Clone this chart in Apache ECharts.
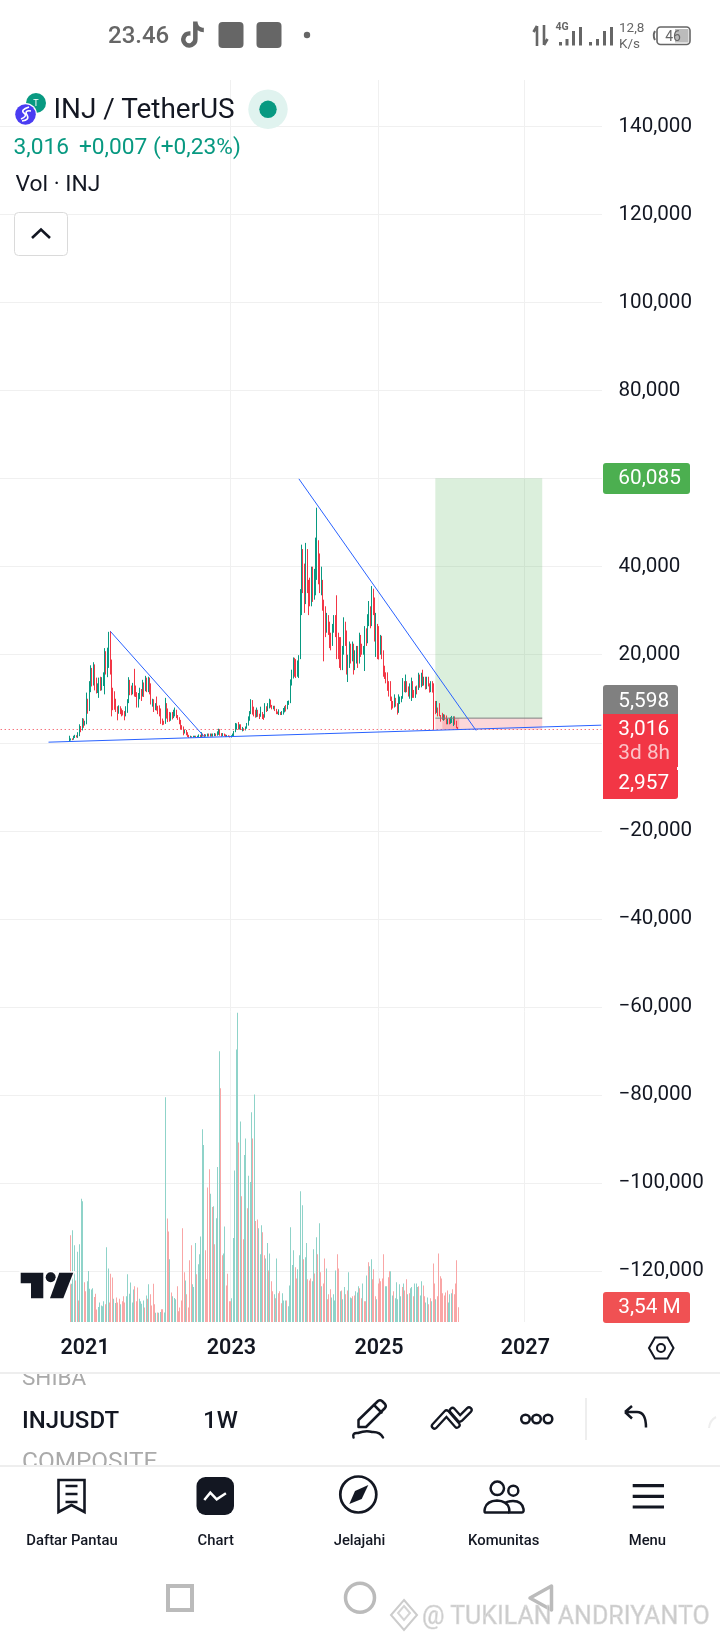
<!DOCTYPE html>
<html>
<head>
<meta charset="utf-8">
<script src="https://cdn.jsdelivr.net/npm/echarts@6/dist/echarts.min.js"></script>
<style>
html,body{margin:0;padding:0;background:#fff;width:720px;height:1640px;overflow:hidden}
#chart{position:absolute;left:0;top:0;width:720px;height:1640px}
#chrome{position:absolute;left:0;top:0;pointer-events:none}
#chrome text{font-family:Roboto,sans-serif;dominant-baseline:central}
</style>
</head>
<body>
<div id="chart"></div>
<svg id="chrome" width="720" height="1640" viewBox="0 0 720 1640">
  <defs>
    <clipPath id="c1"><rect x="0" y="1374" width="300" height="20"/></clipPath>
    <clipPath id="c2"><rect x="0" y="1440" width="300" height="25"/></clipPath>
  </defs>
  <!-- status bar -->
  <text x="108" y="35" font-size="24" font-weight="500" fill="#666">23.46</text>
  <path transform="translate(177,19) scale(1.3)" fill="#666" d="M19.59 6.69a4.83 4.83 0 0 1-3.77-4.25V2h-3.45v13.67a2.89 2.89 0 0 1-5.2 1.74 2.89 2.89 0 0 1 2.31-4.64 2.93 2.93 0 0 1 .88.13V9.4a6.84 6.84 0 0 0-1-.05A6.33 6.33 0 0 0 5 20.1a6.34 6.34 0 0 0 10.86-4.43v-7a8.16 8.16 0 0 0 4.77 1.52v-3.4a4.85 4.85 0 0 1-1-.1z"/>
  <rect x="218.5" y="22" width="25" height="26" rx="4" fill="#666"/>
  <rect x="256.5" y="22" width="25" height="26" rx="4" fill="#666"/>
  <circle cx="307" cy="35" r="3.2" fill="#666"/>
  <path d="M537 46V26M537 26l-3.5 6M544 25V45M544 45l3.5-6" stroke="#666" stroke-width="2.6" fill="none"/>
  <text x="555.5" y="26" font-size="10.5" font-weight="700" fill="#666">4G</text>
  <g fill="#666">
    <rect x="559" y="42" width="3" height="3.5"/><rect x="565.5" y="39" width="3" height="6.5"/><rect x="572" y="31" width="3" height="14.5"/><rect x="579" y="27" width="3" height="18.5"/>
    <rect x="589" y="42" width="3" height="3.5"/><rect x="596" y="39" width="3" height="6.5"/><rect x="603" y="31" width="3" height="14.5"/><rect x="610" y="27" width="3" height="18.5"/>
  </g>
  <text x="619" y="27" font-size="13.5" fill="#666">12,8</text>
  <text x="619" y="43" font-size="13.5" fill="#666">K/s</text>
  <rect x="657" y="27" width="33" height="17.5" rx="3.5" fill="none" stroke="#666" stroke-width="1.6"/>
  <rect x="675" y="29" width="13.5" height="13.5" fill="#bbb"/>
  <path d="M655 31q-2.5 4.5 0 9" stroke="#666" stroke-width="2" fill="none"/>
  <text x="673" y="36" font-size="14" fill="#666" text-anchor="middle">46</text>
  <!-- legend -->
  <circle cx="36" cy="103" r="10" fill="#089981"/>
  <text x="36" y="103" font-size="9" fill="#fff" text-anchor="middle">T</text>
  <circle cx="25.5" cy="114.5" r="11.5" fill="#fff"/>
  <circle cx="25.5" cy="114.5" r="10.3" fill="#4A3CF2"/>
  <path d="M21 119q7-3 3-6t5-6M22 121q8-1 5-6t4-4" stroke="#fff" stroke-width="1.6" fill="none"/>
  <text x="53.5" y="108.5" font-size="27.9" fill="#131722">INJ / TetherUS</text>
  <circle cx="268" cy="109.3" r="19.7" fill="#E0F3EF"/>
  <circle cx="268" cy="109.3" r="8.7" fill="#089981"/>
  <text x="13.5" y="146.5" font-size="22.7" fill="#089981">3,016</text>
  <text x="79" y="146.5" font-size="22.7" fill="#089981">+0,007 (+0,23%)</text>
  <text x="15.5" y="183" font-size="22.8" fill="#131722">Vol · INJ</text>
  <rect x="14.5" y="212.5" width="53" height="43" rx="4" fill="#fff" stroke="#DADADA" stroke-width="1"/>
  <path d="M32 238L41 229.5L50 238" stroke="#131722" stroke-width="2.6" fill="none"/>
  <!-- TV logo -->
  <g fill="#131722" stroke="#fff" stroke-width="3" paint-order="stroke">
    <path d="M20.7 1272.7H43.3V1298.3H31V1283.3H20.7Z"/>
    <circle cx="50.7" cy="1277.3" r="5"/>
    <path d="M59.3 1272.7H73.3L63.3 1298.3H50Z"/>
  </g>
  <!-- axis gear -->
  <path d="M649 1348l6-10.500h12.500l6 10.500-6 10.500h-12.500z" fill="none" stroke="#131722" stroke-width="2"/>
  <circle cx="661" cy="1348" r="4" fill="none" stroke="#131722" stroke-width="2"/>
  <!-- symbol toolbar -->
  <rect x="0" y="1372" width="720" height="2" fill="#EEE"/>
  <text x="22" y="1377" font-size="22.5" fill="#AAA" clip-path="url(#c1)">SHIBA</text>
  <text x="22" y="1419.5" font-size="24" font-weight="500" fill="#131722">INJUSDT</text>
  <text x="203" y="1419.5" font-size="24" font-weight="500" fill="#131722">1W</text>
  <text x="22" y="1460" font-size="24.4" fill="#AAA" clip-path="url(#c2)">COMPOSITE</text>
  <g fill="none" stroke="#131722" stroke-width="2.5" stroke-linejoin="round" stroke-linecap="round">
    <path d="M358.5 1427V1420L378 1401Q380 1399.500 382 1401L385 1404Q386.500 1406 385 1408L366 1427Z"/>
    <path d="M374 1405L381.5 1412.5"/>
    <path d="M353.5 1437.5Q352 1432.500 358 1433Q366 1430 372 1432Q380 1431.500 383 1437.5"/>
    <circle cx="525.5" cy="1419" r="4.3"/><circle cx="536.5" cy="1419" r="4.3"/><circle cx="548" cy="1419" r="4.3"/>
    <path d="M632 1418.5L625 1412M625 1412L632 1406M625.5 1412H637Q646 1412 646 1427.5" stroke-linecap="butt"/>
  </g>
  <g fill="none" stroke-linecap="round" stroke-linejoin="round">
    <path d="M434.5 1426L446.5 1413L457 1425M452.5 1410.5L460 1419L469 1410" stroke="#131722" stroke-width="7.5"/>
    <path d="M434.5 1426L446.5 1413L457 1425M452.5 1410.5L460 1419L469 1410" stroke="#fff" stroke-width="3"/>
  </g>
  <rect x="585" y="1398" width="2" height="42" fill="#EEE"/>
  <path d="M709 1428Q710 1420 716 1417" stroke="#EEE" stroke-width="2" fill="none"/>
  <rect x="0" y="1465" width="720" height="2" fill="#EEE"/>
  <!-- nav -->
  <path d="M58.5 1480H84.5V1512L71.5 1505L58.5 1512Z" fill="none" stroke="#131722" stroke-width="2.6"/>
  <path d="M65.5 1486H77.5M65.5 1494H77.5M65.5 1502H77.5" stroke="#131722" stroke-width="2.6"/>
  <rect x="196.5" y="1477" width="37.5" height="38" rx="9" fill="#131722"/>
  <path d="M204.3 1500L210.3 1492.7L216.7 1499.3L225.9 1493.3" fill="none" stroke="#fff" stroke-width="2.5"/>
  <circle cx="358.3" cy="1494.5" r="18" fill="none" stroke="#131722" stroke-width="2.7"/>
  <path d="M368.3 1485L361.7 1499L349.3 1504L355 1491Z" fill="#131722"/>
  <g fill="none" stroke="#131722" stroke-width="2.5">
    <circle cx="497.3" cy="1488.3" r="6.7"/>
    <circle cx="513.3" cy="1490.7" r="5"/>
    <path d="M485 1512.5H508Q510 1512.5 509 1508Q507 1501 497 1500.5Q487 1501 485 1508Q484 1512 485 1512.5Z"/>
    <path d="M508 1512.5H522Q524 1512.5 523.5 1509Q522 1501 513 1501Q508 1501 505 1503"/>
  </g>
  <path d="M632.7 1485.7H664M632.7 1496.3H664M632.7 1507H664" stroke="#131722" stroke-width="3.2"/>
  <g font-size="14.8" font-weight="500" fill="#131722" text-anchor="middle">
    <text x="72" y="1540">Daftar Pantau</text>
    <text x="215.8" y="1540">Chart</text>
    <text x="359.5" y="1540">Jelajahi</text>
    <text x="503.7" y="1540">Komunitas</text>
    <text x="647.4" y="1540">Menu</text>
  </g>
  <!-- android nav -->
  <rect x="168" y="1586" width="24" height="24" fill="none" stroke="#BBB" stroke-width="4"/>
  <circle cx="360" cy="1597.7" r="14.5" fill="none" stroke="#BBB" stroke-width="3.5"/>
  <path d="M551.5 1586V1610L530 1598Z" fill="none" stroke="#BBB" stroke-width="3.5" stroke-linejoin="round"/>
  <!-- watermark -->
  <path d="M404 1600L417 1615L404 1630L391 1615Z" fill="none" stroke="#CCC" stroke-width="2"/>
  <path d="M404 1606L410 1613L404 1620L398 1613Z" fill="none" stroke="#D5D5D5" stroke-width="2"/>
  <text x="422" y="1615" font-size="25" fill="#BDBDBD" fill-opacity="0.8" stroke="#DDD" stroke-width="0.6">@ TUKILAN ANDRIYANTO</text>
</svg>
<script>
// weekly category axis
const firstWeek = Date.UTC(2019, 10, 11);
const weekCount = 428;
const categories = [];
for (let k = 0; k < weekCount; k++) categories.push(new Date(firstWeek + k * 7 * 864e5).toISOString().slice(0, 10));
const yearTicks = ['2021-01-04', '2023-01-02', '2025-01-06', '2027-01-04'];
const priceTicks = [140, 120, 100, 80, 60, 40, 20, 0, -20, -40, -60, -80, -100, -120];
const leadingEmptyWeeks = 49;
const firstOpen = 0.5;

const closes = [
.6,.9,.7,1.2,1.5,1.4,2.0,3.4,3.0,5.5,
4.4,4.6,9.5,7.2,12.0,16.6,13.5,17.5,14.6,11.8,
12.1,14.5,12.4,14.6,15.5,20.5,16.5,19.0,22.0,16.0,
12.5,11.5,8.5,7.6,7.0,8.0,7.7,7.2,7.0,6.4,
7.9,9.4,14.0,12.4,11.5,13.0,12.0,11.0,9.5,10.8,
11.8,10.9,13.0,11.9,14.0,13.2,14.2,12.8,9.0,9.4,
7.8,8.3,8.2,7.3,6.7,5.4,4.4,4.3,9.0,7.8,
6.5,5.2,6.5,6.0,6.7,7.5,6.2,5.6,4.8,3.9,
3.6,2.4,2.5,2.2,1.6,1.3,1.35,1.3,1.4,1.5,
1.35,1.5,1.7,1.5,2.0,1.6,1.5,1.7,2.0,1.6,
1.9,1.6,1.8,2.0,1.7,2.4,3.0,2.0,1.6,2.0,
1.8,1.5,1.6,1.4,1.3,1.5,1.9,2.4,3.6,4.0,
3.5,3.7,3.0,3.0,2.9,3.4,4.0,5.3,6.5,9.7,
8.0,7.3,6.4,7.4,6.3,5.9,7.0,6.0,5.8,8.0,
7.6,8.9,9.8,8.5,8.0,8.1,7.6,6.9,6.6,7.0,
6.5,6.7,7.5,8.0,7.8,8.9,9.5,14.4,15.5,19.0,
17.0,15.3,17.0,19.3,30.0,43.5,35.0,32.0,44.0,36.0,
34,32,39,33,37,38,46,39,35,36.5,
32,30,25,29,26.5,24,22,26,28,27,
23,22,19,17,21,27,24.5,16,19.5,22,
20,22.5,17,19,21,18,24,22,20.5,21,
25,23,28.5,31,28,34,30,26,27,24,
22,24,20,17,15.5,14.5,13,11.5,9.8,8.5,
8.3,10,8.6,6.8,9.5,10,10,13.5,12,14,
12.5,11,12.5,14,11,10.8,12.5,12,15.5,13.5,
15.8,13.5,14.5,14,15,13.5,13,13.5,12,8,
7.5,7.8,7.2,6,5.5,5.2,5.7,5.3,4.3,5,
4.4,4.7,5.6,5.9,4.5,3.5,3.016];
const highs = [
1.6,1.0,1.0,1.6,1.8,1.7,2.4,4.2,3.8,5.6,
5.4,5.0,11.4,10,14.0,17.6,17.0,18.3,17.8,14.8,
13.5,14.8,15.0,14.9,16.0,21.5,20.8,21.6,25.2,25.4,
18.9,12.0,11.7,10.0,8.3,8.5,8.3,7.8,7.4,7.2,
8.3,9.9,14.9,14.3,13.0,13.6,16.8,13.0,11.5,11.3,
12.5,12.2,14.3,13.7,15.2,14.8,15.0,14.8,13.5,10,
9.9,9.0,10.5,8.4,8.5,7.8,5.5,5.0,10.2,8.5,
7.6,7.0,6.9,7.0,7.5,8.0,7.5,6.3,5.8,5.2,
4.0,3.7,3.0,2.9,2.4,1.8,1.6,1.5,1.6,1.6,
1.6,1.6,1.9,1.8,2.4,2.1,2.0,1.9,2.1,2.1,
2.1,2.1,2.1,2.2,2.1,2.6,3.2,3.1,2.2,2.2,
2.1,1.9,1.8,1.7,1.6,1.7,2.1,2.7,4.5,4.4,
4.7,4.2,4.2,3.6,3.3,3.7,4.5,6.0,7.2,9.9,
9.5,8.2,7.5,8.0,7.5,6.6,8.2,7.0,6.5,9.0,
8.3,9.0,10.0,9.5,8.6,8.4,8.4,7.7,7.1,7.6,
7.0,7.2,7.9,8.3,8.6,9.5,9.6,14.4,16.6,19.4,
19.3,19.0,18.7,19.9,34.9,45.0,44.0,40.7,45.4,42.6,
37,37.5,40,40,39.5,46.6,53.4,43,43,40,
37,32.5,31,29.5,29,27.5,25,27,29,29,
33.5,25,24,24,22,28.5,27.5,25.5,20,23,
22.5,23,20,21,22,22,25,24.5,22.5,22,
26.5,26,29.2,32.2,31,35.6,35,33,29.5,27,
26.5,24.5,24.3,21,17.5,16,16,14,14,10.5,
9.5,11,10.2,9,11,10.5,10.6,14.7,14,15.5,
14,12.8,13.5,14.8,13.8,12,12.8,13,15.9,15.5,
15.9,16.6,15,15,15,14.5,13.5,14,14,13.5,
9.5,9.5,8,9,6.3,6.8,6.5,6.4,6.2,5.5,
5.6,5.8,6.1,6,6,5,3.6];
const lows = [
.4,.5,.6,.7,1.1,1.2,1.1,1.5,2.4,2.8,
3.4,3.9,4.2,6.6,7.2,11.5,12.8,13.0,11.9,11.2,
11.3,10.2,11.8,11.9,12.9,11.0,15.5,14.9,17.0,15.5,
6.0,7.4,7.5,7.0,5.1,6.6,6.5,6.0,6.2,5.1,
6.0,6.8,9.0,10.8,10.8,11.0,10.5,10.4,8.0,8.0,
9.9,9.5,10.5,10.4,11.7,11.5,11.5,11.0,8.7,8.2,
7.0,7.4,7.3,6.5,6.0,4.3,4.0,4.1,4.8,5.5,
4.7,4.8,5.0,5.3,5.6,6.0,5.6,5.2,4.2,3.0,
3.0,1.7,2.1,1.7,1.3,1.1,1.15,1.15,1.2,1.3,
1.2,1.3,1.3,1.3,1.3,1.4,1.3,1.4,1.4,1.4,
1.4,1.4,1.4,1.5,1.5,1.6,1.8,1.6,1.4,1.5,
1.5,1.3,1.3,1.3,1.2,1.2,1.4,1.5,2.4,3.0,
3.0,3.0,2.9,2.6,2.7,2.8,3.2,3.9,5.0,6.5,
6.4,6.0,5.7,5.8,5.9,5.4,6.4,5.4,5.2,5.7,
7.0,7.2,7.8,8.0,7.6,7.6,7.2,6.5,6.5,6.3,
6.3,6.3,6.4,6.9,7.1,7.6,8.6,9.0,13.0,14.6,
15.0,14.7,15.0,14.7,19.0,29.0,34.0,29.5,31.5,34.0,
29,31,31,32,32.5,33.5,37,36,34,33.5,
30,18.5,24,25,24.5,21.5,21,23.5,25,24,
19,19,17,16.5,16.5,20,22,15.5,13.8,17,
18,18.5,15.5,16.5,18,17,18,19.5,20,20,
16.3,22,22.6,26.5,26,26.5,29,23,19.5,19,
18.9,20,19,15,14.5,13.5,11.8,10.5,9.5,7.5,
7.8,8,8.2,6.4,7.2,8.8,9.2,11.4,11.5,11.4,
11.5,10.5,10,9.5,10.2,10.2,10.2,11,12.9,12.5,
12.6,12.9,13,12.1,12.2,12.8,11.4,11.5,11.4,3.0,
6.5,6.8,6,6,4.8,5.2,5,5.2,4.2,4.2,
4.2,4.3,4.5,3.8,4.1,3.3,2.95];
const volumes = [
20.9,9.2,22.1,18.5,10.0,16.9,5.2,18.7,29.7,29.1,
9.6,7.4,9.8,12.3,8.0,7.8,8.1,6.0,6.8,3.0,
3.6,4.7,4.0,3.8,5.0,4.3,18.0,12.9,4.7,11.6,
10.7,5.6,4.6,5.9,4.7,5.6,4.3,5.0,6.2,4.7,
6.2,11.5,6.8,9.5,4.7,7.8,8.6,5.0,8.3,5.6,
5.0,4.4,5.2,3.5,6.4,5.6,9.1,6.7,4.0,9.2,
4.3,2.2,2.3,2.2,2.4,3.1,3.1,2.3,54.1,24.9,
21.8,15.1,7.1,6.2,5.8,5.5,8.6,2.6,3.5,5.2,
22.6,12.0,10.0,6.7,3.5,14.9,18.5,9.1,8.4,19.0,
11.5,13.9,16.3,20.6,46.4,42.6,17.3,10.3,32.4,36.8,
30.9,27.7,27.9,18.7,25.0,37.3,65.2,56.3,16.1,16.5,
23.0,8.8,11.6,5.0,5.0,5.7,20.2,36.5,65.6,74.5,
43.2,48.3,30.3,19.9,40.2,44.2,27.4,35.2,33.7,50.5,
44.2,54.8,24.3,24.7,22.6,16.3,23.3,21.6,16.1,15.3,
19.0,12.4,16.5,9.8,7.4,6.7,5.7,15.3,6.9,7.4,
4.5,6.9,5.2,5.2,5.2,3.8,8.8,22.8,13.7,17.3,
13.2,10.5,12.7,16.1,31.5,28.1,15.1,15.6,19.0,10.3,
10.0,10.5,9.8,17.5,11.7,20.4,16.3,23.8,12.0,8.6,
9.3,15.3,12.9,5.5,6.7,7.9,5.9,6.7,5.2,12.4,
16.3,12.9,7.4,7.6,5.5,8.4,6.7,7.6,12.0,5.9,
5.7,6.2,6.4,7.4,7.1,8.6,8.1,5.7,9.3,5.0,
5.0,11.2,14.4,13.4,15.1,10.3,12.7,6.2,5.5,9.3,
10.5,9.8,10.5,16.3,8.6,8.6,10.8,12.2,12.2,6.4,
7.4,5.7,9.6,5.5,9.1,6.2,8.4,9.3,7.6,10.3,
6.7,6.9,8.1,8.4,6.2,9.3,9.3,8.4,8.6,6.4,
9.8,8.8,6.2,4.7,5.9,4.3,5.7,5.0,14.1,9.3,
5.5,6.2,16.5,11.0,10.5,6.9,6.4,7.1,7.6,4.7,
6.7,6.9,7.9,6.7,9.3,14.9,3.54];
const volumeDirs = (
'duuududuuu' + 'dduuuuuddd' + 'uuuuuduudd' + 'duudddudd' + 'd' +
'uuuuuudddu' + 'uuudududdd' + 'duduudduud' + 'duduuudddd' +
'ddudddduuu' + 'duuuuudddd' + 'ududuuuddu' + 'udddduuuuu' +
'dudduuduuu' + 'dudduuuddu' + 'ududdududd' + 'duuuduuuuu' +
'dduuuuduud' + 'dduudududu' + 'dduddduuuu' + 'dduduudduu' +
'udduuuddud' + 'duduudddud' + 'dddduudduu' + 'duuuuududd' +
'uduuduuudu' + 'udduuddudd' + 'uddddddddu' + 'uuddddd').split('');

// trend lines: [axis index, price]
const trendLine1 = [[78, 25.3], [145, 1.27]];
const trendLine2 = [[212, 59.95], [338, 2.79]];
const supportLine = [[34, 0.14], [427, 4.0]];
// long position tool
const positionLeft = 309, positionRight = 385;
const targetPrice = 60.085, entryPrice = 5.598, stopPrice = 2.957, lastPrice = 3.016;
const filledLeft = 314, filledRight = 326;

const candleRows = closes.map((c, i) => {
  const o = i ? closes[i - 1] : firstOpen;
  return [o, c, Math.min(lows[i], o, c), Math.max(highs[i], o, c)];
});
const pad = Array(leadingEmptyWeeks).fill('-');
const UP = '#089981', DOWN = '#F23645';
const volumeRows = volumes.map((v, i) => [i + leadingEmptyWeeks, v]);
const fmt = v => (v < 0 ? '\u2212' : '') + Math.abs(v).toFixed(3).replace('.', ',');
const isYear = (idx, val) => yearTicks.indexOf(val) >= 0;

const FONT = 'Roboto';
const tagRect = (x, y, w, h, fill, r) => ({ type: 'rect', z: 100, silent: true, shape: { x, y, width: w, height: h, r: r || 0 }, style: { fill } });
const tagText = (x, y, text, fill, size) => ({ type: 'text', z: 101, silent: true, x, y, style: { text, fill, font: (size || 20.8) + 'px ' + FONT, textVerticalAlign: 'middle', textAlign: 'left' } });

const chart = echarts.init(document.getElementById('chart'), null, { width: 720, height: 1640 });
chart.setOption({
  animation: false,
  backgroundColor: '#fff',
  grid: { left: 0, top: 80, width: 602, height: 1242, containLabel: false },
  xAxis: {
    type: 'category', data: categories, boundaryGap: true,
    axisLine: { show: false },
    axisTick: { show: false, alignWithLabel: true, interval: isYear },
    axisLabel: { interval: isYear, formatter: v => v.slice(0, 4), margin: 16, color: '#131722', fontFamily: FONT, fontSize: 21.5, fontWeight: 600, hideOverlap: false },
    splitLine: { show: true, interval: isYear, showMinLine: false, showMaxLine: false, lineStyle: { color: '#F0F0F0', width: 1 } }
  },
  yAxis: [
    {
      type: 'value', position: 'right', min: -131.566, max: 150.545, scale: true,
      axisLine: { show: false },
      axisTick: { show: false, customValues: priceTicks },
      axisLabel: { customValues: priceTicks, formatter: fmt, align: 'left', verticalAlign: 'middle', padding: [0, 0, 6, 0], margin: 16.5, color: '#131722', fontFamily: FONT, fontSize: 20.6 },
      splitLine: { show: true, lineStyle: { color: '#F0F0F0', width: 1 } }
    },
    { type: 'value', min: 0, max: 299.1, show: false, splitLine: { show: false } }
  ],
  series: [
    {
      type: 'custom', name: 'Vol', yAxisIndex: 1, z: 1, silent: true, encode: { x: 0, y: 1 },
      renderItem: (params, api) => {
        const top = api.coord([api.value(0), api.value(1)]);
        const base = api.coord([api.value(0), 0]);
        return { type: 'rect', shape: { x: Math.round(top[0]), y: top[1], width: 1, height: base[1] - top[1] },
          style: { fill: volumeDirs[params.dataIndex] === 'u' ? '#8FD3C9' : '#F9A6A6' } };
      },
      data: volumeRows
    },
    {
      type: 'line', name: 'position', data: [], silent: true, z: 2,
      markArea: {
        silent: true,
        data: [
          [{ coord: [categories[positionLeft], targetPrice], itemStyle: { color: 'rgba(76,175,80,0.2)' } }, { coord: [categories[positionRight], entryPrice] }],
          [{ coord: [categories[positionLeft], entryPrice], itemStyle: { color: 'rgba(242,54,69,0.2)' } }, { coord: [categories[positionRight], stopPrice] }],
          [{ coord: [categories[filledLeft], entryPrice], itemStyle: { color: 'rgba(242,54,69,0.2)' } }, { coord: [categories[filledRight], stopPrice] }]
        ]
      }
    },
    {
      type: 'candlestick', name: 'INJUSDT', barWidth: 1, z: 3, silent: true,
      itemStyle: { color: UP, color0: DOWN, borderColor: UP, borderColor0: DOWN, borderWidth: 1 },
      data: pad.concat(candleRows)
    },
    { type: 'line', name: 'entry', silent: true, z: 4, symbol: 'none', lineStyle: { color: '#808080', width: 1 }, data: [[positionLeft, entryPrice], [positionRight, entryPrice]] },
    { type: 'line', name: 'last', silent: true, z: 4, symbol: 'none', lineStyle: { color: DOWN, width: 1, type: [1, 3] }, data: [[0, lastPrice], [weekCount - 1, lastPrice]] },
    { type: 'line', name: 'trend1', silent: true, z: 5, symbol: 'none', lineStyle: { color: '#2962FF', width: 1 }, data: trendLine1 },
    { type: 'line', name: 'trend2', silent: true, z: 5, symbol: 'none', lineStyle: { color: '#2962FF', width: 1 }, data: trendLine2 },
    { type: 'line', name: 'support', silent: true, z: 5, symbol: 'none', lineStyle: { color: '#2962FF', width: 1 }, data: supportLine }
  ],
  graphic: { elements: [
    tagRect(603, 463, 87, 31, '#4CAF50', 3),
    tagText(618.3, 479, fmt(targetPrice), '#fff'),
    tagRect(603, 685, 75, 30, '#808080', [3, 3, 0, 0]),
    tagText(618.3, 701.5, fmt(entryPrice), '#fff'),
    tagRect(603, 714, 75, 85, DOWN, [0, 0, 3, 0]),
    tagText(618.3, 730.2, fmt(lastPrice), '#fff'),
    tagText(618.3, 753.7, '3d 8h', 'rgba(255,255,255,0.7)'),
    tagText(618.3, 783.7, fmt(stopPrice), '#fff'),
    tagRect(677, 767, 1.5, 3, '#fff'),
    tagRect(603, 1292, 87, 31, '#F05153', 3),
    tagText(618.3, 1308, '3,54 M', '#fff')
  ] }
});
</script>
</body>
</html>
